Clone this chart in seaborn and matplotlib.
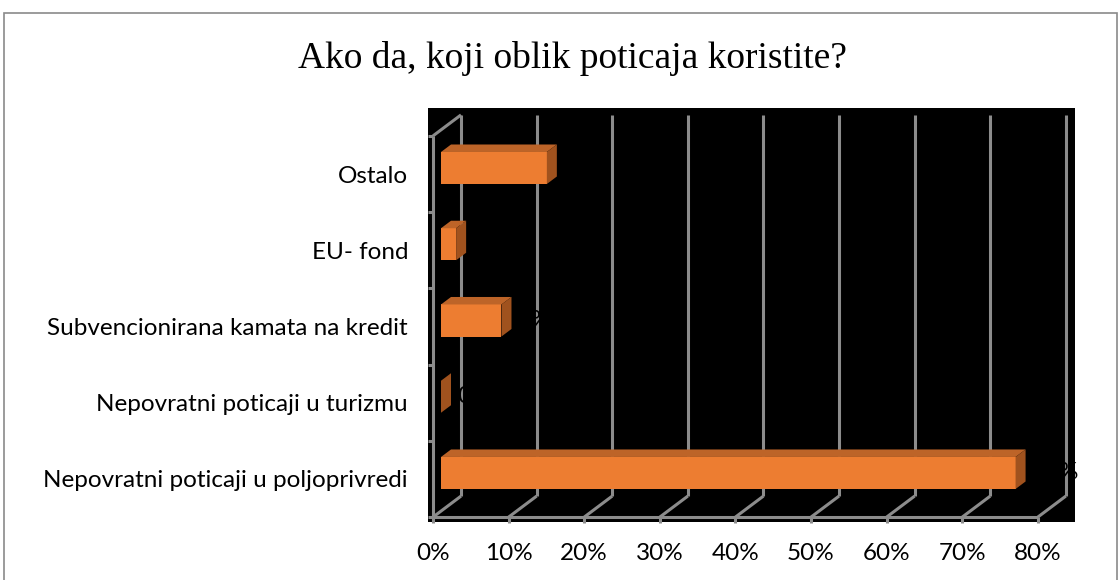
import matplotlib
matplotlib.use("Agg")
import matplotlib.pyplot as plt
from matplotlib.patches import Polygon, Rectangle
import seaborn as sns
import pandas as pd

# ---- data ----
categories = [
    "Ostalo",
    "EU- fond",
    "Subvencionirana kamata na kredit",
    "Nepovratni poticaji u turizmu",
    "Nepovratni poticaji u poljoprivredi",
]
values = [14, 2, 8, 0, 76]
value_labels = ["14%", "2%", "8%", "0%", "76%"]
x_ticks = [0, 10, 20, 30, 40, 50, 60, 70, 80]
x_tick_labels = ["0%", "10%", "20%", "30%", "40%", "50%", "60%", "70%", "80%"]
title = "Ako da, koji oblik poticaja koristite?"

BAR = "#ED7D31"
TOP = "#BD6428"
SIDE = "#A0521E"
GRID = "#8C8C8C"
FS = 17.5

sns.set_theme(style="white")
plt.rcParams["font.family"] = ["Lato", "DejaVu Sans"]

W, H = 1118, 580
fig = plt.figure(figsize=(W / 100, H / 100), dpi=100)
fig.patch.set_facecolor("white")

# outer chart border
fig.patches.append(Rectangle((4 / W, -0.05), (1116.5 - 4) / W, 1.05 - 13 / H,
                             transform=fig.transFigure, fill=False,
                             edgecolor="#8A8A8A", linewidth=1.2))

ax = fig.add_axes([428 / W, 1 - 522 / H, (1075 - 428) / W, (522 - 108) / H])
df = pd.DataFrame({"category": categories, "value": values})
sns.barplot(data=df, x="value", y="category", orient="h", color=BAR,
            saturation=1, width=0.42, linewidth=0, ax=ax, zorder=2)
ax.set_facecolor("black")
ax.set_xlim(-1.72, 83.86)
ax.set_ylim(4.643, -0.787)
for s in ax.spines.values():
    s.set_visible(False)
ax.set_xticks([])
ax.set_yticks([])
ax.set_xlabel("")
ax.set_ylabel("")

n = len(categories)
y_top, y_bot = -0.5, n - 0.5

# offsets in reference pixels (dx right, dy down)
FRONT = (-8, 6)
BACK = (20, -15)
DEPTH = (10, -7.5)


def P(x, y, off=(0, 0)):
    X, Y = ax.transData.transform((x, y))
    return ax.transData.inverted().transform((X + off[0], Y - off[1]))


def line(p, q, **kw):
    ax.plot([p[0], q[0]], [p[1], q[1]], color=GRID, lw=2.2,
            solid_capstyle="butt", clip_on=False, **kw)


# back wall gridlines and floor diagonals
for xv in x_ticks:
    line(P(xv, y_top, BACK), P(xv, y_bot, BACK), zorder=0.5)
    line(P(xv, y_bot, BACK), P(xv, y_bot, FRONT), zorder=0.5)
# front floor edge with ticks
line(P(x_ticks[0], y_bot, FRONT), P(x_ticks[-1], y_bot, FRONT), zorder=0.6)
for xv in x_ticks:
    line(P(xv, y_bot, FRONT), P(xv, y_bot, (FRONT[0], FRONT[1] + 6)), zorder=0.6)
# left wall front edge, top diagonal, ticks
line(P(0, y_top, FRONT), P(0, y_bot, FRONT), zorder=0.6)
line(P(0, y_top, FRONT), P(0, y_top, BACK), zorder=0.6)
for i in range(n + 1):
    yv = i - 0.5
    line(P(0, yv, FRONT), P(0, yv, (FRONT[0] - 5, FRONT[1])), zorder=0.6)

# 3D faces for bars
for p in ax.patches:
    if not hasattr(p, "get_width"):
        continue
    x0, w, y0, h = p.get_x(), p.get_width(), p.get_y(), p.get_height()
    x1 = x0 + w
    top = [P(x0, y0), P(x1, y0), P(x1, y0, DEPTH), P(x0, y0, DEPTH)]
    side = [P(x1, y0), P(x1, y0 + h), P(x1, y0 + h, DEPTH), P(x1, y0, DEPTH)]
    ax.add_patch(Polygon(top, closed=True, facecolor=TOP, edgecolor="none", zorder=2))
    ax.add_patch(Polygon(side, closed=True, facecolor=SIDE, edgecolor="none", zorder=2))

# data labels (black, as in the source)
for i, (v, lab) in enumerate(zip(values, value_labels)):
    x, y = P(v, i, (16, 0))
    ax.text(x, y, lab, ha="left", va="center", fontsize=FS, color="black",
            zorder=3, clip_on=False)

# category labels
for i, c in enumerate(categories):
    x, y = P(0, i, (-33, 8))
    ax.text(x, y, c, ha="right", va="center", fontsize=FS, color="black",
            clip_on=False)

# x tick labels
for xv, lab in zip(x_ticks, x_tick_labels):
    x, y = P(xv, y_bot, (FRONT[0], FRONT[1] + 36))
    ax.text(x, y, lab, ha="center", va="center", fontsize=FS, color="black",
            clip_on=False)

fig.text(573 / W, 1 - 58 / H, title, ha="center", va="center",
         fontsize=27, color="black", family=["Liberation Serif", "DejaVu Serif"])

fig.savefig("out.png", dpi=100, facecolor="white")
